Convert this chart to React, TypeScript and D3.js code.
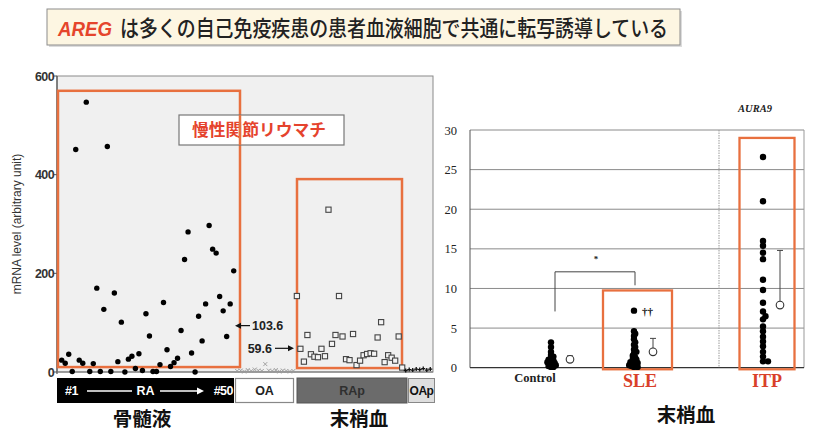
import React from "react";
import * as d3 from "d3";

const W = 813;
const H = 433;

// ---------- Left chart data (sample index order) ----------
const raValues = [24, 17.6, 36, 1, 451, 24, 17.6, 547, 1, 17, 170, 1, 127, 457, 1, 160, 21, 101, 0, 26, 32, 7, 37, 3, 118, 73, 1, 1, 15, 141, 45, 11, 19, 28, 84, 228, 284, 38.5, 0, 113, 63, 138, 297, 249, 241, 153, 124, 72, 138, 205];
const oaValues = [2, 3, 1, 4, 2, 5, 3, 2, 16, 3, 2, 4, 1, 3, 2, 1, 2];
const rapValues = [154, 47, 21, 75, 36, 31, 30, 47, 32, 329, 57, 75, 154, 72, 26, 24, 77, 14, 23, 34, 36.5, 38, 37, 70, 101, 20, 34, 29, 23, 72, 9];
const oapValues = [3, 5, 4, 6, 5, 7, 4, 6];
const leftTicks = [0, 200, 400, 600];
const raMeanLabel = "103.6";
const rapMeanLabel = "59.6";
const raMeanPos = 94;
const rapMeanPos = 48;

// ---------- Right chart data ----------
const groups = ["Control", "SLE", "ITP"];
const controlValues = [3.2, 2.6, 2.0, 1.6, 1.4, 1.2, 1.0, 0.9, 0.8, 0.7, 0.6, 0.5, 0.4, 0.3, 0.2, 0.1, 0.1];
const sleValues = [7.2, 4.6, 4.3, 4.0, 3.6, 3.2, 2.9, 2.6, 2.3, 2.0, 1.8, 1.5, 1.3, 1.1, 1.0, 0.8, 0.7, 0.6, 0.5, 0.4, 0.3, 0.2, 0.1, 0.1];
const itpValues = [26.6, 21.0, 16.0, 15.4, 14.5, 13.7, 11.1, 9.8, 8.2, 7.1, 6.5, 6.1, 5.2, 4.6, 3.9, 3.3, 2.7, 2.0, 1.4, 0.8, 0.8];
const groupMeans = [1.06, 2.0, 7.9];
const groupUpper = [1.5, 3.7, 14.8];
const rightTicks = [0, 5, 10, 15, 20, 25, 30];

const ORANGE = "#e8703f";
const RED = "#d9402a";
const SANS = "'Liberation Sans', Arial, sans-serif";
const SERIF = "'Liberation Serif', 'Times New Roman', serif";
const CJK = "'Noto Sans CJK JP', 'Noto Sans CJK SC', sans-serif";

type Placed = { v: number; y: number; dx: number };
function dodge(values: number[], y: (v: number) => number, minDist: number, step: number): Placed[] {
  const placed: Placed[] = [];
  const sorted = values.map((v) => ({ v, y: y(v) })).sort((a, b) => a.v - b.v);
  for (const p of sorted) {
    let dx = 0;
    for (let k = 0; k < 60; k++) {
      const cand = k === 0 ? 0 : (k % 2 === 1 ? 1 : -1) * Math.ceil(k / 2) * step;
      if (placed.every((q) => Math.hypot(q.dx - cand, q.y - p.y) >= minDist)) {
        dx = cand;
        break;
      }
    }
    placed.push({ ...p, dx });
  }
  return placed;
}

export default function App() {
  // Left scales
  const xL = d3.scaleLinear().domain([0, 49]).range([61.7, 233.7]);
  const yL = d3.scaleLinear().domain([0, 600]).range([372, 76]);
  const plotL = { x0: 57, x1: 433, y0: yL(600), y1: yL(0) };

  const oaStart = 50;
  const rapStart = 67;
  const oapStart = 98;

  // Right scales
  const yR = d3.scaleLinear().domain([0, 30]).range([367.7, 130]);
  const plotR = { x0: 470, x1: 804 };
  const dotX = d3.scaleOrdinal<string, number>().domain(groups).range([551, 634, 763]);
  const meanX = d3.scaleOrdinal<string, number>().domain(groups).range([570, 653, 780]);
  const labelX = d3.scaleOrdinal<string, number>().domain(groups).range([535, 640, 767]);

  const ctrl = dodge(controlValues, yR, 2.4, 1.2);
  const sle = dodge(sleValues, yR, 2.5, 1.2);
  const itp = dodge(itpValues, yR, 3.6, 2.5);
  const swarms = [ctrl, sle, itp];

  const arrowHead = (x: number, y: number, dir: number) =>
    `M${x},${y} L${x - dir * 6},${y - 3} L${x - dir * 6},${y + 3} Z`;

  return (
    <div style={{ position: "absolute", left: 0, top: 0, width: W, height: H, background: "#fff" }}>
      <svg width={W} height={H} style={{ display: "block" }}>
        {/* Title */}
        <rect x={49} y={11} width={633} height={36} fill="#9a9a9a" opacity={0.35} />
        <rect x={47} y={9} width={633} height={36} fill="#fdf6e2" stroke="#8c8c8c" strokeWidth={1} />
        <text x={58} y={35.5} fontFamily={SANS} fontSize={21} fontStyle="italic" fontWeight="bold" fill="#e5452c" textLength={54} lengthAdjust="spacingAndGlyphs">AREG</text>
        <text x={120} y={36} fontFamily={CJK} fontSize={22} fontWeight={500} fill="#222" textLength={548} lengthAdjust="spacingAndGlyphs">は多くの自己免疫疾患の患者血液細胞で共通に転写誘導している</text>

        {/* ---------- Left chart ---------- */}
        <rect x={plotL.x0} y={plotL.y0} width={plotL.x1 - plotL.x0} height={plotL.y1 - plotL.y0} fill="#f0f0f0" stroke="#8a8a8a" strokeWidth={1} />
        <line x1={plotL.x0} x2={plotL.x0} y1={plotL.y0} y2={plotL.y1 + 2} stroke="#555" strokeWidth={1.2} />
        <line x1={plotL.x0} x2={plotL.x1} y1={plotL.y1} y2={plotL.y1} stroke="#777" strokeWidth={1.2} />
        {leftTicks.map((t) => (
          <g key={t}>
            <line x1={plotL.x0 - 3} x2={plotL.x0} y1={yL(t)} y2={yL(t)} stroke="#555" />
            <text x={plotL.x0 - 3} y={yL(t) + 4.5} textAnchor="end" fontFamily={SANS} fontSize={12.5} fontWeight="bold" fill="#333" letterSpacing={-0.6}>{t}</text>
          </g>
        ))}
        <text transform={`translate(21,${(plotL.y0 + plotL.y1) / 2}) rotate(-90)`} textAnchor="middle" fontFamily={SANS} fontSize={12} fill="#333">mRNA level (arbitrary unit)</text>

        {/* orange boxes */}
        <rect x={58} y={yL(570)} width={182} height={yL(10) - yL(570)} fill="none" stroke={ORANGE} strokeWidth={2.5} />
        <rect x={297} y={yL(391)} width={105} height={yL(8) - yL(391)} fill="none" stroke={ORANGE} strokeWidth={2.5} />

        {/* RA points */}
        {raValues.map((v, i) => (
          <circle key={`ra${i}`} cx={xL(i)} cy={yL(v)} r={2.7} fill="#000" />
        ))}
        {/* OA points */}
        {oaValues.map((v, i) => {
          const cx = xL(oaStart + i);
          const cy = yL(v);
          return (
            <path key={`oa${i}`} d={`M${cx - 2},${cy - 2} L${cx + 2},${cy + 2} M${cx - 2},${cy + 2} L${cx + 2},${cy - 2}`} stroke="#999" strokeWidth={0.9} />
          );
        })}
        {/* RAp points */}
        {rapValues.map((v, i) => (
          <rect key={`rap${i}`} x={xL(rapStart + i) - 2.6} y={yL(v) - 2.6} width={5.2} height={5.2} fill="#f4f4f4" stroke="#444" strokeWidth={1.1} />
        ))}
        {/* OAp points */}
        {oapValues.map((v, i) => {
          const cx = xL(oapStart + i);
          const cy = yL(v);
          return (
            <path key={`oap${i}`} d={`M${cx - 2},${cy} L${cx + 2},${cy} M${cx},${cy - 2} L${cx},${cy + 2}`} stroke="#111" strokeWidth={1.3} />
          );
        })}

        {/* Label box */}
        <rect x={179} y={115} width={165} height={30} fill="#fff" stroke="#777" strokeWidth={1.2} />
        <text x={192} y={136} fontFamily={CJK} fontSize={16.5} fontWeight="bold" fill="#e5432d" textLength={134} lengthAdjust="spacingAndGlyphs">慢性関節リウマチ</text>
        <line x1={240} x2={240} y1={115} y2={145} stroke={ORANGE} strokeWidth={2.5} />

        {/* mean arrows */}
        <line x1={250} x2={240} y1={yL(raMeanPos)} y2={yL(raMeanPos)} stroke="#111" strokeWidth={1.2} />
        <path d={arrowHead(235, yL(raMeanPos), -1)} fill="#111" />
        <text x={252} y={yL(raMeanPos) + 4.5} fontFamily={SANS} fontSize={12.5} fontWeight="bold" fill="#222">{raMeanLabel}</text>
        <text x={272} y={yL(rapMeanPos) + 4.5} textAnchor="end" fontFamily={SANS} fontSize={12.5} fontWeight="bold" fill="#222">{rapMeanLabel}</text>
        <line x1={275} x2={288} y1={yL(rapMeanPos)} y2={yL(rapMeanPos)} stroke="#111" strokeWidth={1.2} />
        <path d={arrowHead(294, yL(rapMeanPos), 1)} fill="#111" />

        {/* category bar */}
        <rect x={57} y={378} width={177} height={25} fill="#000" />
        <text x={65} y={395} fontFamily={SANS} fontSize={12.5} fontWeight="bold" fill="#fff" letterSpacing={-0.5}>#1</text>
        <line x1={87} x2={132} y1={391} y2={391} stroke="#fff" strokeWidth={1.5} />
        <text x={145.5} y={395} textAnchor="middle" fontFamily={SANS} fontSize={12.5} fontWeight="bold" fill="#fff">RA</text>
        <line x1={160} x2={198} y1={391} y2={391} stroke="#fff" strokeWidth={1.5} />
        <path d="M204,391 L197,387.5 L197,394.5 Z" fill="#fff" />
        <text x={233} y={395} textAnchor="end" fontFamily={SANS} fontSize={12.5} fontWeight="bold" fill="#fff" letterSpacing={-0.5}>#50</text>
        <rect x={235.5} y={378.5} width={58} height={24} fill="#fff" stroke="#888" strokeWidth={1.2} />
        <text x={264.5} y={395} textAnchor="middle" fontFamily={SANS} fontSize={12.5} fontWeight="bold" fill="#222">OA</text>
        <rect x={297} y={378} width={110} height={25} fill="#6b6b6b" stroke="#555" />
        <text x={352} y={395} textAnchor="middle" fontFamily={SANS} fontSize={12.5} fontWeight="bold" fill="#2f2f2f">RAp</text>
        <rect x={408.5} y={378.5} width={26} height={24} fill="#dedede" stroke="#888" />
        <text x={421.5} y={395} textAnchor="middle" fontFamily={SANS} fontSize={12} fontWeight="bold" fill="#111" letterSpacing={-0.5}>OAp</text>

        <text x={142} y={425.5} textAnchor="middle" fontFamily={CJK} fontSize={19.5} fontWeight="bold" fill="#111">骨髄液</text>
        <text x={359} y={425.5} textAnchor="middle" fontFamily={CJK} fontSize={19.5} fontWeight="bold" fill="#111">末梢血</text>

        {/* ---------- Right chart ---------- */}
        {rightTicks.map((t) => (
          <g key={`rt${t}`}>
            {t > 0 && <line x1={plotR.x0} x2={plotR.x1} y1={yR(t)} y2={yR(t)} stroke="#8a8a8a" strokeWidth={1} />}
            <text x={457} y={yR(t) + 4.5} textAnchor="end" fontFamily={SERIF} fontSize={12.5} fill="#222">{t}</text>
          </g>
        ))}
        <line x1={plotR.x0} x2={plotR.x0} y1={yR(30)} y2={yR(0)} stroke="#555" strokeWidth={1} />
        <line x1={plotR.x1} x2={plotR.x1} y1={yR(30)} y2={yR(0)} stroke="#999" strokeWidth={1} />
        <line x1={plotR.x0} x2={plotR.x1} y1={yR(0)} y2={yR(0)} stroke="#333" strokeWidth={1.3} />
        <line x1={719} x2={719} y1={yR(30)} y2={yR(0)} stroke="#999" strokeWidth={1} strokeDasharray="1.5,1" />
        <text x={755} y={112} textAnchor="middle" fontFamily={SERIF} fontSize={10.5} fontStyle="italic" fontWeight="bold" fill="#222">AURA9</text>

        {/* orange boxes right */}
        <rect x={603} y={yR(9.75)} width={69} height={yR(-0.2) - yR(9.75)} fill="none" stroke={ORANGE} strokeWidth={2.3} />
        <rect x={739.5} y={yR(29)} width={55} height={yR(-0.2) - yR(29)} fill="none" stroke={ORANGE} strokeWidth={2.3} />

        {/* significance bracket */}
        <path d={`M555,${yR(7.1)} L555,${yR(12.1)} L635,${yR(12.1)} L635,${yR(10.4)}`} fill="none" stroke="#444" strokeWidth={1} />
        <text x={596} y={yR(13.3)} textAnchor="middle" fontFamily={SERIF} fontSize={9} fontWeight="bold" fill="#222">*</text>

        {/* swarms */}
        {swarms.map((pts, gi) =>
          pts.map((p, i) => (
            <circle key={`s${gi}-${i}`} cx={dotX(groups[gi]) + p.dx} cy={p.y} r={3.2} fill="#000" />
          ))
        )}
        <text x={642} y={yR(7.2) + 4} fontFamily={SERIF} fontSize={11} fontWeight="bold" fill="#111">††</text>

        {/* mean + error bars */}
        {groups.map((g, i) => (
          <g key={`m${g}`}>
            <line x1={meanX(g)} x2={meanX(g)} y1={yR(groupMeans[i])} y2={yR(groupUpper[i])} stroke="#444" strokeWidth={1} />
            <line x1={meanX(g) - 3} x2={meanX(g) + 3} y1={yR(groupUpper[i])} y2={yR(groupUpper[i])} stroke="#444" strokeWidth={1} />
            <circle cx={meanX(g)} cy={yR(groupMeans[i])} r={3.8} fill="#fff" stroke="#333" strokeWidth={1.1} />
          </g>
        ))}

        {/* group labels */}
        {groups.map((g, i) => (
          <text key={`l${g}`} x={labelX(g)} y={i === 0 ? 381.5 : 387} textAnchor="middle" fontFamily={SERIF} fontSize={i === 0 ? 12.5 : 18} fontWeight="bold" fill={i === 0 ? "#222" : RED}>{g}</text>
        ))}

        <text x={686} y={422} textAnchor="middle" fontFamily={CJK} fontSize={19.5} fontWeight="bold" fill="#111">末梢血</text>
      </svg>
    </div>
  );
}
